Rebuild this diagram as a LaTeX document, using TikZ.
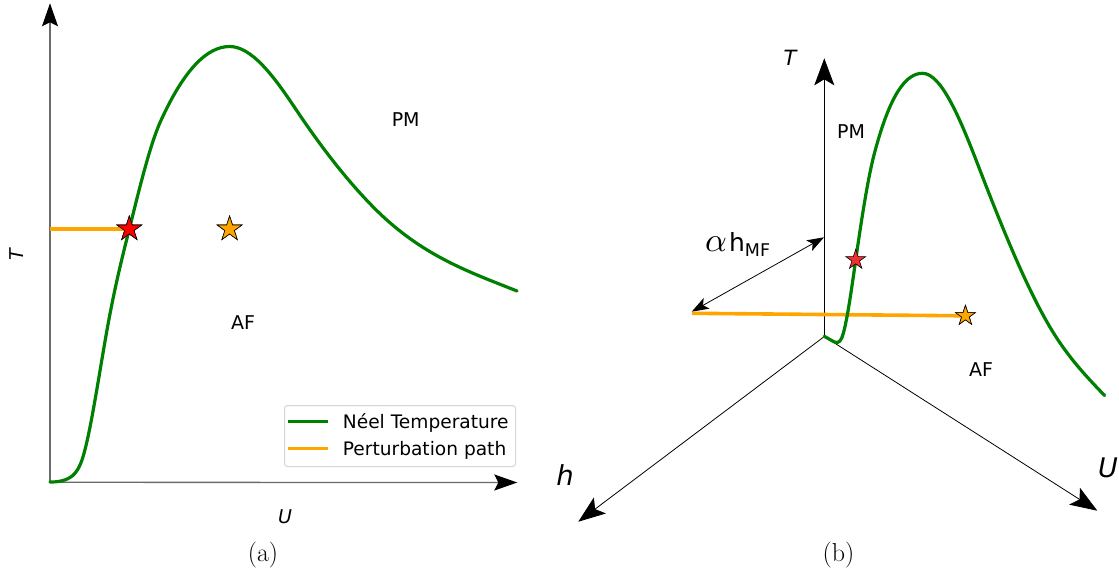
\documentclass[tikz,border=0pt]{standalone}
\usepackage{fontspec}
\usetikzlibrary{arrows.meta,shapes.geometric}
\newfontfamily\dv{DejaVu Sans}
\definecolor{mgreen}{HTML}{008000}
\definecolor{morange}{HTML}{FFA500}
\definecolor{mred}{HTML}{FF0000}
\definecolor{sred}{HTML}{F22E2E}
\definecolor{axgray}{HTML}{6A6A6A}
\definecolor{leggray}{HTML}{D6D6D6}
\begin{document}
\begin{tikzpicture}[x=1pt,y=-1pt,
  lbl/.style={font=\dv\fontsize{19}{21}\selectfont, inner sep=0pt},
  legtext/.style={font=\dv\fontsize{18.6}{21}\selectfont, inner sep=0pt, anchor=base west},
  axlbl/.style={font=\dv\itshape\fontsize{#1}{#1}\selectfont, inner sep=0pt},
  caplbl/.style={font=\fontsize{26}{30}\selectfont, inner sep=0pt},
  starmark/.style={star, star points=5, star point ratio=2.618, inner sep=0pt, draw=black, line width=0.6pt},
  greencurve/.style={mgreen, line width=3.2pt, line join=round, line cap=round},
  orangepath/.style={morange, line width=3.3pt},
  leftaxis/.style={axgray, line width=1.3pt, -{Stealth[length=23pt,width=16pt,inset=4pt,color=black]}},
  rightaxis/.style={black, line width=0.8pt, -{Stealth[length=27pt,width=20pt,inset=6pt]}},
  dblarrow/.style={black, line width=0.8pt, {Stealth[length=17pt,width=12pt,inset=4pt]}-{Stealth[length=17pt,width=12pt,inset=4pt]}}
]
\useasboundingbox (0,0) rectangle (1119,574);

% ---------------- panel (a) ----------------
\coordinate (O1) at (50,482.3);
\coordinate (T1) at (50,3.3);
\coordinate (U1) at (517.3,482.5);
\draw[leftaxis] (O1) -- (T1);
\draw[leftaxis] (O1) -- (U1);

\coordinate (P1) at (50,229);
\node[starmark, fill=mred, minimum size=26pt] (rs1) at (129.3,229) {};
\node[starmark, fill=morange, minimum size=26pt] (os1) at (229.6,229) {};
\draw[orangepath] (P1) -- (rs1.center);
\draw[greencurve] (50,482)
  .. controls (56.67,482) and (63.33,481.5) .. (70,477.5)
  .. controls (73.33,475.5) and (76.67,472.3) .. (80,465)
  .. controls (82.43,459.65) and (84.87,450.9) .. (87.3,440)
  .. controls (93.87,410.4) and (100.43,366.8) .. (107,330)
  .. controls (114.43,288.4) and (121.87,258.7) .. (129.3,229)
  .. controls (139.77,187.1) and (150.23,144.0) .. (160.7,121)
  .. controls (183.67,70.5) and (206.63,46.5) .. (229.6,46.5)
  .. controls (251.4,46.5) and (273.2,75.3) .. (295,108)
  .. controls (321.67,148) and (348.33,182.1) .. (375,208.8)
  .. controls (422.33,256.1) and (469.67,272.1) .. (517,291);
\node[starmark, fill=mred, minimum size=26pt] at (rs1.center) {};
\node[starmark, fill=morange, minimum size=26pt] at (os1.center) {};

\node[lbl] (pm1) at (405.7,119.4) {PM};
\node[lbl] (af1) at (243,322.7) {AF};
\node[axlbl=19, rotate=90] (tl1) at (17,255) {T};
\node[axlbl=19] (ul1) at (285,517) {U};
\node[caplbl] (capa) at (263,555) {(a)};

% legend
\node[draw=leggray, line width=1pt, fill=white, rounded corners=3pt, minimum width=231pt, minimum height=61pt, anchor=north west, inner sep=0pt] (legend) at (284,405) {};
\draw[mgreen, line width=3.2pt] (288.3,421.7) -- (328.3,421.7);
\draw[morange, line width=3.2pt] (288.3,448.3) -- (328.3,448.3);
\node[legtext] (leg1) at (342.7,428) {Néel Temperature};
\node[legtext] (leg2) at (342.7,455) {Perturbation path};

% ---------------- panel (b) ----------------
\coordinate (O2) at (824.3,336.5);
\coordinate (T2) at (824.3,58.3);
\coordinate (H2) at (578.3,521.7);
\coordinate (U2) at (1097.3,510.7);
\draw[rightaxis] (O2) -- (T2);
\draw[rightaxis] (O2) -- (H2);
\draw[rightaxis] (O2) -- (U2);

\coordinate (hA) at (824,237.3);
\coordinate (hB) at (691.7,311.7);
\draw[dblarrow] (hB) -- (hA);

\coordinate (P2) at (692,313.3);
\node[starmark, fill=morange, minimum size=21pt] (os2) at (965.4,315.8) {};
\draw[orangepath, line width=3.6pt] (P2) -- (os2.center);

\draw[greencurve] (824.3,336.3) -- (834,341.8)
  .. controls (839,344.6) and (841.5,340) .. (843.3,333.3)
  .. controls (847.43,318.8) and (851.57,288.9) .. (855.7,260)
  .. controls (861.9,216.6) and (868.1,177.4) .. (874.3,153.8)
  .. controls (890.37,92.7) and (906.43,73.3) .. (922.5,73.3)
  .. controls (940.97,73.3) and (959.43,116.8) .. (977.9,164.8)
  .. controls (1001.7,226.7) and (1025.5,285.5) .. (1049.3,326)
  .. controls (1067.7,357.3) and (1086.2,376.2) .. (1104.6,395.6);

\node[starmark, fill=sred, minimum size=21pt] (rs2) at (855.7,259.8) {};
\node[starmark, fill=morange, minimum size=21pt] at (os2.center) {};

\node[lbl] (pm2) at (851,132) {PM};
\node[lbl] (af2) at (981,370) {AF};
\node[axlbl=21] (tl2) at (790,58) {T};
\node[axlbl=27.5] (hl2) at (565,475) {h};
\node[axlbl=27] (ul2) at (1108,468) {U};
\node[inner sep=0pt, anchor=base west] (hmf) at (705,251) {\scalebox{3.4}{$\alpha$}\hspace{2pt}{\dv\fontsize{25}{25}\selectfont h}\raisebox{-5.5pt}{\dv\fontsize{17.5}{17.5}\selectfont MF}};
\node[caplbl] (capb) at (838.5,555) {(b)};
\end{tikzpicture}
\end{document}
